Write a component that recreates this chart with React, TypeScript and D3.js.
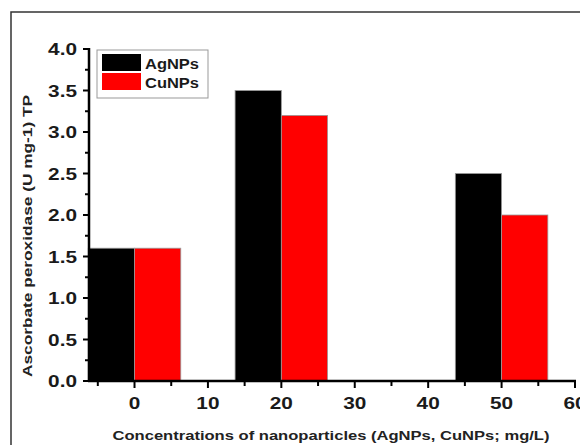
import { scaleLinear, range } from 'd3';

const width = 580;
const height = 445;

// data
const concentrations = [0, 20, 50];
const agValues = [1.6, 3.5, 2.5];
const cuValues = [1.6, 3.2, 2.0];
const seriesNames = ['AgNPs', 'CuNPs'];
const seriesColors = ['#000000', '#ff0000'];
const xTicks = [0, 10, 20, 30, 40, 50, 60];
const yTicks = [0, 0.5, 1.0, 1.5, 2.0, 2.5, 3.0, 3.5, 4.0];

const barW = 6.3; // bar width in x units
const font = '"Liberation Sans", Arial, Helvetica, sans-serif';

const x = scaleLinear().domain([-6.2, 60]).range([89, 575]);
const y = scaleLinear().domain([0, 4]).range([381, 49]);

const xMinor = range(-5, 60, 10);
const yMinor = range(0.25, 4, 0.5);

const App = () => {
  const series = [agValues, cuValues];
  return (
    <svg width={width} height={height} style={{ position: 'absolute', left: 0, top: 0, background: '#fff' }}>
      <rect x={11} y={12} width={600} height={480} fill="none" stroke="#333" strokeWidth={1.5} />

      {/* bars */}
      {concentrations.map((c, i) =>
        series.map((vals, s) => {
          const x0 = s === 0 ? c - barW : c;
          return (
            <rect
              key={`${i}-${s}`}
              x={x(x0)}
              y={y(vals[i])}
              width={x(x0 + barW) - x(x0)}
              height={y(0) - y(vals[i])}
              fill={seriesColors[s]}
              stroke="#999"
              strokeWidth={0.8}
            />
          );
        })
      )}

      {/* y axis */}
      <line x1={89} x2={89} y1={y(0) + 1} y2={y(4) - 1} stroke="#000" strokeWidth={2.5} />
      {yTicks.map(t => (
        <g key={t}>
          <line x1={83} x2={89} y1={y(t)} y2={y(t)} stroke="#000" strokeWidth={2} />
          <text
            transform={`translate(77,${y(t) + 6}) scale(1.3,1)`}
            textAnchor="end"
            fontFamily={font}
            fontWeight="bold"
            fontSize={16}
            fill="#1a1a1a"
          >
            {t.toFixed(1)}
          </text>
        </g>
      ))}
      {yMinor.map(t => (
        <line key={t} x1={85} x2={89} y1={y(t)} y2={y(t)} stroke="#000" strokeWidth={2} />
      ))}

      {/* x axis */}
      <line x1={88} x2={576} y1={381} y2={381} stroke="#000" strokeWidth={2.5} />
      {xTicks.map(t => (
        <g key={t}>
          <line x1={x(t)} x2={x(t)} y1={381} y2={388} stroke="#000" strokeWidth={2} />
          <text
            transform={`translate(${x(t)},409) scale(1.3,1)`}
            textAnchor="middle"
            fontFamily={font}
            fontWeight="bold"
            fontSize={16}
            fill="#1a1a1a"
          >
            {t}
          </text>
        </g>
      ))}
      {xMinor.map(t => (
        <line key={t} x1={x(t)} x2={x(t)} y1={381} y2={386} stroke="#000" strokeWidth={2} />
      ))}

      {/* axis titles */}
      <text
        x={331}
        y={440}
        textAnchor="middle"
        fontFamily={font}
        fontWeight="bold"
        fontSize={13}
        fill="#222"
        textLength={437}
        lengthAdjust="spacingAndGlyphs"
      >
        Concentrations of nanoparticles (AgNPs, CuNPs; mg/L)
      </text>
      <text
        transform="translate(32,236) rotate(-90)"
        textAnchor="middle"
        fontFamily={font}
        fontWeight="bold"
        fontSize={13}
        fill="#222"
        textLength={282}
        lengthAdjust="spacingAndGlyphs"
      >
        Ascorbate peroxidase (U mg-1) TP
      </text>

      {/* legend */}
      <rect x={97} y={50} width={111} height={48} fill="#fff" stroke="#999" strokeWidth={1} />
      {seriesNames.map((name, i) => (
        <g key={name} transform={`translate(0,${i * 19})`}>
          <rect x={102} y={54} width={39} height={17} fill={seriesColors[i]} />
          <text
            x={145}
            y={69}
            fontFamily={font}
            fontWeight="bold"
            fontSize={14}
            fill="#1a1a1a"
            textLength={54}
            lengthAdjust="spacingAndGlyphs"
          >
            {name}
          </text>
        </g>
      ))}
    </svg>
  );
};

export default App;
